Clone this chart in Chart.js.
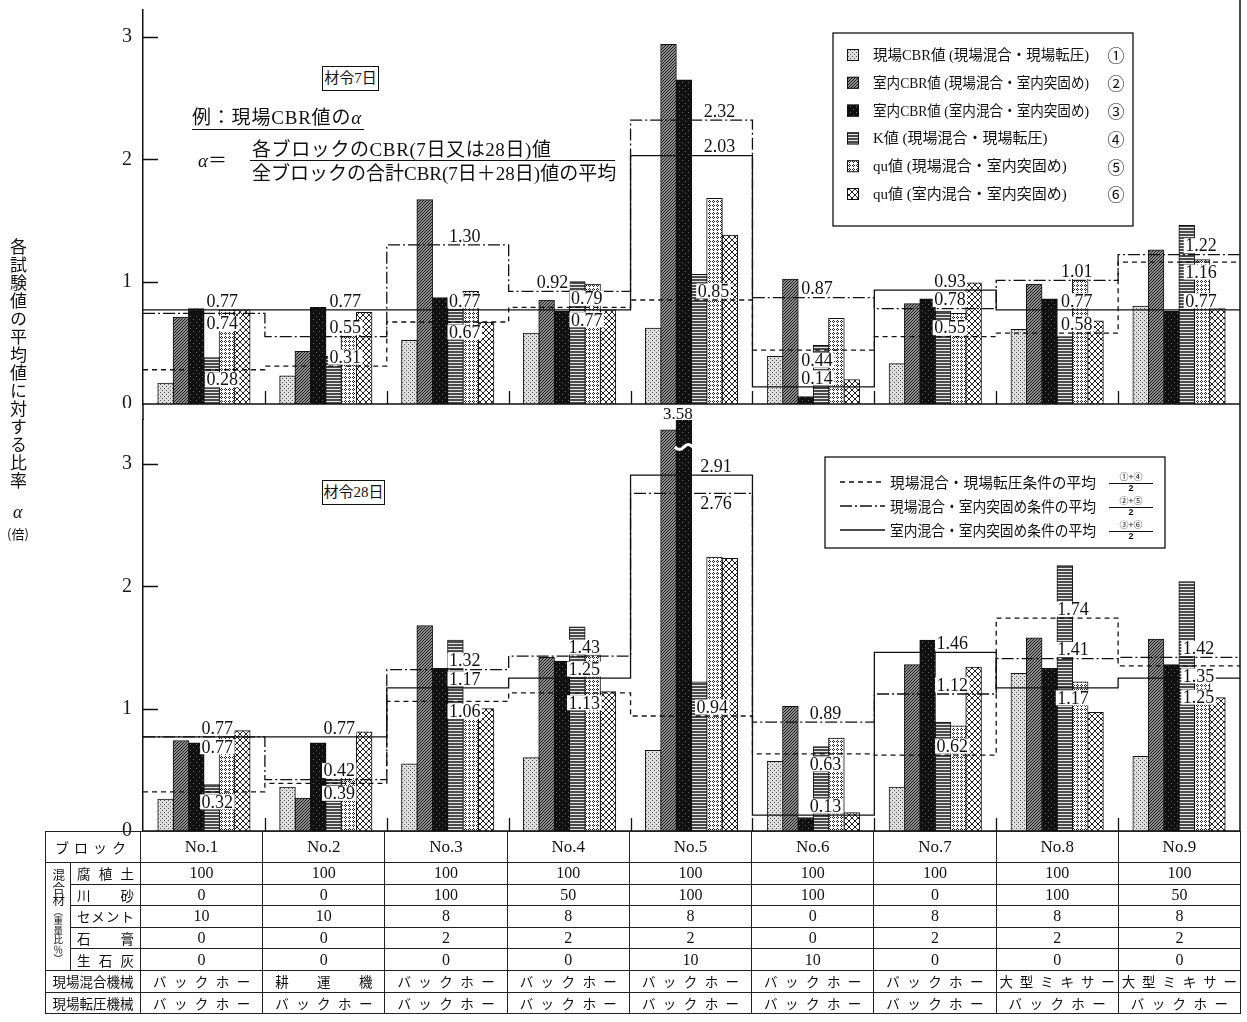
<!DOCTYPE html>
<html lang="ja">
<head>
<meta charset="utf-8">
<title>材令7日・28日 各試験値の平均値に対する比率</title>
<script src="https://cdn.jsdelivr.net/npm/chart.js@4.4.1/dist/chart.umd.min.js"></script>
<style>
  html, body { margin: 0; padding: 0; background: #fff; }
  #page { position: relative; width: 1247px; height: 1022px; overflow: hidden; background: #fff; color: #111;
          font-family: "Liberation Serif", "Noto Sans CJK JP", serif; }
  #page canvas { position: absolute; left: 0; }
  #c7 { top: 0; }
  #c28 { top: 404px; }
  .note { position: absolute; white-space: nowrap; line-height: 1; font-size: 19px; }
  .age { position: absolute; box-sizing: border-box; border: 1.3px solid #111; font-size: 15px;
         line-height: 22px; text-align: center; background: #fff; white-space: nowrap; }
  #ytitle { position: absolute; left: 10px; top: 238px; writing-mode: vertical-rl; text-orientation: upright;
            font-family: "Noto Sans CJK JP"; font-size: 17px; letter-spacing: 1px; line-height: 1; }
  #tbl { position: absolute; left: 45px; top: 831px; width: 1196px; border-collapse: collapse; table-layout: fixed; }
  #tbl td { border: 1px solid #222; padding: 0; text-align: center; white-space: nowrap; overflow: hidden;
            height: 20.6px; font-size: 16px; line-height: 18px; }
  #tbl tr.hd td { height: 30px; }
  #tbl td.no { font-size: 17px; }
  #tbl td.jp { font-family: "Noto Sans CJK JP"; font-size: 13.5px; }
  #tbl td.just { text-align: justify; text-align-last: justify; }
  #tbl td.lab { letter-spacing: 5px; font-size: 14px; }
  #tbl td.vcell div { writing-mode: vertical-rl; text-orientation: upright; font-family: "Noto Sans CJK JP";
                      font-size: 12.5px; line-height: 1; margin: 0 auto; }
  #tbl td.vcell small { font-size: 9.5px; }
</style>
</head>
<body>
<div id="page">
  <canvas id="c7" width="1247" height="408"></canvas>
  <canvas id="c28" width="1247" height="432"></canvas>

  <div id="ytitle">各試験値の平均値に対する比率</div>
  <div class="note" style="left:13px;top:503px;font-size:18px;"><i>α</i></div>
  <div class="note" style="left:7px;top:527px;font-size:13px;font-family:'Noto Sans CJK JP';">(倍)</div>

  <div class="age" style="left:322px;top:66px;width:57px;height:25px;">材令7日</div>
  <div class="note" style="left:192px;top:108px;border-bottom:1px solid #111;padding:0 2px 2px 0;letter-spacing:0.8px;">例：現場CBR値の<i>α</i></div>
  <div class="note" style="left:198px;top:151px;"><i>α</i>＝</div>
  <div class="note" style="left:250px;top:140px;width:365px;">
    <div style="border-bottom:1px solid #111;padding:0 0 1px 2px;letter-spacing:0.6px;">各ブロックのCBR(7日又は28日)値</div>
    <div style="padding:3px 0 0 2px;">全ブロックの合計CBR(7日＋28日)値の平均</div>
  </div>
  <div class="age" style="left:322px;top:480px;width:63px;height:25px;">材令28日</div>

  <table id="tbl"></table>
</div>

<script>
// Blocks and the mix / machine table underneath the panels
const blocks = ['No.1', 'No.2', 'No.3', 'No.4', 'No.5', 'No.6', 'No.7', 'No.8', 'No.9'];
const humusSoil = [100, 100, 100, 100, 100, 100, 100, 100, 100];
const riverSand = [0, 0, 100, 50, 100, 100, 0, 100, 50];
const cement = [10, 10, 8, 8, 8, 0, 8, 8, 8];
const gypsum = [0, 0, 2, 2, 2, 0, 2, 2, 2];
const quicklime = [0, 0, 0, 0, 10, 10, 0, 0, 0];
const mixMachine = ['バックホー', '耕運機', 'バックホー', 'バックホー', 'バックホー', 'バックホー', 'バックホー', '大型ミキサー', '大型ミキサー'];
const rollMachine = ['バックホー', 'バックホー', 'バックホー', 'バックホー', 'バックホー', 'バックホー', 'バックホー', 'バックホー', 'バックホー'];

// Test series (bars) and condition averages (step lines)
const barNames = [
  '現場CBR値 (現場混合・現場転圧)',
  '室内CBR値 (現場混合・室内突固め)',
  '室内CBR値 (室内混合・室内突固め)',
  'K値 (現場混合・現場転圧)',
  'qu値 (現場混合・室内突固め)',
  'qu値 (室内混合・室内突固め)'
];
const marks = ['①', '②', '③', '④', '⑤', '⑥'];
const lineNames = ['現場混合・現場転圧条件の平均', '現場混合・室内突固め条件の平均', '室内混合・室内突固め条件の平均'];
const linePairs = [[0, 3], [1, 4], [2, 5]];
const yTicks = [0, 1, 2, 3];

// 材令7日 : α per block
const fieldCbr7 = [0.17, 0.23, 0.52, 0.58, 0.62, 0.39, 0.33, 0.61, 0.80];
const labCbrFieldMix7 = [0.71, 0.43, 1.67, 0.85, 2.94, 1.02, 0.82, 0.98, 1.26];
const labCbrLabMix7 = [0.78, 0.79, 0.87, 0.76, 2.65, 0.06, 0.86, 0.86, 0.76];
const kValue7 = [0.38, 0.39, 0.82, 1.00, 1.06, 0.48, 0.76, 0.55, 1.46];
const quFieldMix7 = [0.77, 0.67, 0.92, 0.98, 1.68, 0.70, 0.74, 1.04, 1.18];
const quLabMix7 = [0.77, 0.75, 0.67, 0.77, 1.38, 0.20, 0.99, 0.68, 0.78];
const avgFieldRoll7 = [0.28, 0.31, 0.67, 0.79, 0.85, 0.44, 0.55, 0.58, 1.16];
const avgFieldTamp7 = [0.74, 0.55, 1.30, 0.92, 2.32, 0.87, 0.78, 1.01, 1.22];
const avgLabTamp7 = [0.77, 0.77, 0.77, 0.77, 2.03, 0.14, 0.93, 0.77, 0.77];

// 材令28日 : α per block
const fieldCbr28 = [0.26, 0.36, 0.55, 0.60, 0.66, 0.57, 0.36, 1.29, 0.61];
const labCbrFieldMix28 = [0.74, 0.27, 1.68, 1.42, 3.28, 1.02, 1.36, 1.58, 1.57];
const labCbrLabMix28 = [0.72, 0.72, 1.33, 1.39, 3.58, 0.11, 1.56, 1.33, 1.36];
const kValue28 = [0.38, 0.42, 1.56, 1.67, 1.22, 0.69, 0.89, 2.17, 2.04];
const quFieldMix28 = [0.79, 0.55, 0.96, 1.44, 2.24, 0.76, 0.86, 1.22, 1.27];
const quLabMix28 = [0.82, 0.81, 1.00, 1.14, 2.23, 0.15, 1.34, 0.97, 1.09];
const avgFieldRoll28 = [0.32, 0.39, 1.06, 1.13, 0.94, 0.63, 0.62, 1.74, 1.35];
const avgFieldTamp28 = [0.77, 0.42, 1.32, 1.43, 2.76, 0.89, 1.12, 1.41, 1.42];
const avgLabTamp28 = [0.77, 0.77, 1.17, 1.25, 2.91, 0.13, 1.46, 1.17, 1.25];

// Where each average's value label sits: [shift from block centre (blocks), shift from the line (px)]
// per block, in the order dashed, dash-dot, solid
const A = -9, B = 10;
const spots7 = [
  [[0.15, B], [0.15, B], [0.15, A]],
  [[0.16, A], [0.16, A], [0.16, A]],
  [[0.14, B], [0.14, A], [0.14, A]],
  [[0.14, A], [-0.14, A], [0.14, B]],
  [[0.18, A], [0.23, A], [0.23, A]],
  [[0.03, B], [0.03, A], [0.03, A]],
  [[0.12, A], [0.12, A], [0.12, A]],
  [[0.16, A], [0.16, A], [0.16, A]],
  [[0.18, B], [0.18, A], [0.18, A]]
];
const spots28 = [
  [[0.11, B], [0.11, A], [0.11, B]],
  [[0.11, B], [0.11, A], [0.11, A]],
  [[0.14, B], [0.14, A], [0.14, A]],
  [[0.12, B], [0.12, A], [0.12, A]],
  [[0.17, A], [0.2, B], [0.2, A]],
  [[0.1, B], [0.1, A], [0.1, A]],
  [[0.14, A], [0.14, A], [0.14, A]],
  [[0.13, A], [0.13, A], [0.13, B]],
  [[0.16, B], [0.16, A], [0.16, 19]]
];

// bar slot width inside a block (in block widths) and bar thickness (px)
const SLOT = 0.1258;
const BAR_PX = 15.8;

// ---------- fill patterns for the six test series ----------
function makePattern(w, h, draw) {
  const c = document.createElement('canvas');
  c.width = w; c.height = h;
  const g = c.getContext('2d');
  draw(g);
  return g.createPattern(c, 'repeat');
}
const px = (g, color, pts) => { g.fillStyle = color; pts.forEach(([x, y]) => g.fillRect(x, y, 1, 1)); };
const fills = [
  makePattern(4, 4, g => { g.fillStyle = '#dedede'; g.fillRect(0, 0, 4, 4); px(g, '#555', [[0, 0], [2, 2]]); }),
  makePattern(3, 3, g => { g.fillStyle = '#8e8e8e'; g.fillRect(0, 0, 3, 3); px(g, '#1a1a1a', [[0, 2], [1, 1], [2, 0]]); }),
  makePattern(6, 6, g => { g.fillStyle = '#101010'; g.fillRect(0, 0, 6, 6); px(g, '#6a6a6a', [[1, 1], [4, 4]]); }),
  makePattern(3, 3, g => { g.fillStyle = '#e6e6e6'; g.fillRect(0, 0, 3, 3); g.fillStyle = '#4c4c4c'; g.fillRect(0, 0, 3, 2); }),
  makePattern(4, 4, g => { g.fillStyle = '#fff'; g.fillRect(0, 0, 4, 4); px(g, '#222', [[1, 0], [0, 1], [2, 1], [1, 2]]); }),
  makePattern(6, 6, g => {
    g.fillStyle = '#fff'; g.fillRect(0, 0, 6, 6);
    const p = []; for (let i = 0; i < 6; i++) { p.push([i, i], [5 - i, i]); }
    px(g, '#222', p);
  })
];
const dashes = [[5, 4], [12, 3, 2, 3], []];

const steps = vals => vals.map((v, i) => ({ x: i - 0.5, y: v })).concat([{ x: vals.length - 0.5, y: vals[vals.length - 1] }]);

function datasets(bars, avgs) {
  const ds = bars.map((vals, k) => ({
    type: 'bar', label: barNames[k],
    data: vals.map((v, i) => ({ x: i + (k - (bars.length - 1) / 2) * SLOT, y: v })),
    backgroundColor: fills[k], borderColor: '#111', borderWidth: 1, borderSkipped: 'start', clip: 0,
    grouped: false, barThickness: BAR_PX, xAxisID: 'x', yAxisID: 'y'
  }));
  avgs.forEach((vals, k) => ds.push({
    type: 'line', label: lineNames[k], data: steps(vals), xAxisID: 'x', yAxisID: 'y',
    borderColor: '#111', borderWidth: 1.3, borderDash: dashes[k], stepped: true,
    pointRadius: 0, fill: false, order: -1
  }));
  return ds;
}

// ---------- plugins ----------
const framePlugin = {
  id: 'frame',
  afterDatasetsDraw(chart, args, o) {
    const { ctx, chartArea: a } = chart;
    const y = chart.scales.y, x = chart.scales.x;
    const y0 = y.getPixelForValue(0);
    ctx.save();
    ctx.strokeStyle = '#111';
    ctx.lineWidth = 1.5;
    ctx.beginPath();
    ctx.moveTo(a.left, y0); ctx.lineTo(a.right, y0);
    ctx.moveTo(a.right, 0); ctx.lineTo(a.right, y0);
    if (o.axisToTop) { ctx.moveTo(a.left, 0); ctx.lineTo(a.left, a.top); }
    ctx.stroke();
    ctx.lineWidth = 1.3;
    ctx.beginPath();
    y.ticks.forEach(t => {
      if (t.value > 0) { const p = Math.round(y.getPixelForValue(t.value)) + 0.5; ctx.moveTo(a.left, p); ctx.lineTo(a.left + 15, p); }
    });
    for (let i = 0; i < blocks.length - 1; i++) {
      const xb = Math.round(x.getPixelForValue(i + 0.5)) + 0.5;
      ctx.moveTo(xb, y0); ctx.lineTo(xb, y0 - 13);
    }
    ctx.stroke();
    ctx.restore();
  }
};

function valueLabels(avgs, spots) {
  return {
    id: 'valueLabels',
    afterDatasetsDraw(chart) {
      const { ctx } = chart;
      const y = chart.scales.y, x = chart.scales.x;
      ctx.save();
      ctx.font = '18px "Liberation Serif"';
      ctx.textAlign = 'center';
      ctx.textBaseline = 'middle';
      avgs.forEach((vals, s) => vals.forEach((v, i) => {
        const [dx, dy] = spots[i][s];
        const txt = v.toFixed(2);
        const cx = x.getPixelForValue(i + dx);
        const cy = y.getPixelForValue(v) + dy;
        const w = ctx.measureText(txt).width + 3;
        ctx.fillStyle = '#fff';
        ctx.fillRect(cx - w / 2, cy - 7.5, w, 15);
        ctx.fillStyle = '#111';
        ctx.fillText(txt, cx, cy + 1);
      }));
      ctx.restore();
    }
  };
}

// bars running past the top of the scale: break mark and the stated value
const overflowPlugin = {
  id: 'overflow',
  afterDatasetsDraw(chart) {
    const { ctx, chartArea: a } = chart;
    const y = chart.scales.y;
    chart.data.datasets.forEach((d, k) => {
      if (d.type !== 'bar') return;
      d.data.forEach((pt, i) => {
        if (pt.y <= y.max) return;
        const bar = chart.getDatasetMeta(k).data[i];
        const half = bar.width / 2;
        const yb = a.top + 27;
        ctx.save();
        ctx.strokeStyle = '#fff';
        ctx.lineWidth = 3;
        ctx.beginPath();
        for (let n = 0; n <= 12; n++) {
          const t = n / 12;
          const xx = bar.x - half - 1 + t * (2 * half + 2);
          const yy = yb + 2.5 * Math.sin(t * 2 * Math.PI);
          if (n === 0) ctx.moveTo(xx, yy); else ctx.lineTo(xx, yy);
        }
        ctx.stroke();
        ctx.fillStyle = '#111';
        ctx.font = '17px "Liberation Serif"';
        ctx.textAlign = 'center';
        ctx.textBaseline = 'alphabetic';
        ctx.fillText(pt.y.toFixed(2), bar.x - 6, a.top - 1);
        ctx.restore();
      });
    });
  }
};

const barLegend = {
  id: 'barLegend',
  afterDraw(chart) {
    const ctx = chart.ctx;
    const L = 833, T = 33, W = 300, H = 193;
    ctx.save();
    ctx.fillStyle = '#fff'; ctx.fillRect(L, T, W, H);
    ctx.strokeStyle = '#111'; ctx.lineWidth = 1.3; ctx.strokeRect(L, T, W, H);
    ctx.textBaseline = 'middle';
    chart.data.datasets.filter(d => d.type === 'bar').forEach((d, k) => {
      const y = T + 22 + k * 27.8;
      ctx.fillStyle = d.backgroundColor; ctx.fillRect(L + 14, y - 6, 12, 12);
      ctx.lineWidth = 1; ctx.strokeRect(L + 14.5, y - 5.5, 11, 11);
      ctx.fillStyle = '#111';
      ctx.font = '15px "Liberation Serif", "Noto Sans CJK JP"';
      ctx.textAlign = 'left';
      ctx.fillText(d.label, L + 40, y + 1, 216);
      ctx.font = '17px "Noto Sans CJK JP"';
      ctx.textAlign = 'center';
      ctx.fillText(marks[k], L + 283, y + 1);
    });
    ctx.restore();
  }
};

const lineLegend = {
  id: 'lineLegend',
  afterDraw(chart) {
    const ctx = chart.ctx;
    const L = 825, T = 53, W = 340, H = 91;
    ctx.save();
    ctx.fillStyle = '#fff'; ctx.fillRect(L, T, W, H);
    ctx.strokeStyle = '#111'; ctx.lineWidth = 1.3; ctx.strokeRect(L, T, W, H);
    chart.data.datasets.filter(d => d.type === 'line').forEach((d, k) => {
      const y = T + 25 + k * 24;
      ctx.lineWidth = 1.3;
      ctx.setLineDash(d.borderDash);
      ctx.beginPath(); ctx.moveTo(L + 15, y); ctx.lineTo(L + 60, y); ctx.stroke();
      ctx.setLineDash([]);
      ctx.fillStyle = '#111';
      ctx.textBaseline = 'middle';
      ctx.textAlign = 'left';
      ctx.font = '15px "Noto Sans CJK JP"';
      ctx.fillText(d.label, L + 65, y, 206);
      const cx = L + 306;
      ctx.textAlign = 'center';
      ctx.font = '9px "Noto Sans CJK JP"';
      ctx.fillText(marks[linePairs[k][0]] + '+' + marks[linePairs[k][1]], cx, y - 5);
      ctx.lineWidth = 1;
      ctx.beginPath(); ctx.moveTo(cx - 22, y + 1.5); ctx.lineTo(cx + 22, y + 1.5); ctx.stroke();
      ctx.font = 'bold 9px "Liberation Sans"';
      ctx.fillText('2', cx, y + 7);
    });
    ctx.restore();
  }
};

function panelOptions(yMax, padTop, padBottom, axisToTop) {
  return {
    responsive: false,
    animation: false,
    events: [],
    layout: { padding: { top: padTop, bottom: padBottom, left: 0, right: 7 } },
    plugins: { legend: { display: false }, tooltip: { enabled: false }, frame: { axisToTop } },
    scales: {
      x: { type: 'linear', min: -0.5, max: blocks.length - 0.5, offset: false, display: false,
           grid: { display: false, offset: false } },
      y: {
        position: 'left', min: 0, max: yMax,
        afterBuildTicks: s => { s.ticks = yTicks.map(v => ({ value: v })); },
        ticks: { color: '#1a1a1a', padding: 11, font: { family: 'Liberation Serif', size: 20 } },
        grid: { display: false, drawTicks: false },
        border: { display: true, color: '#111', width: 1.5 },
        afterFit: s => { s.width = 143; s.paddingTop = 0; s.paddingBottom = 0; }
      }
    }
  };
}

Chart.defaults.font.family = '"Liberation Serif", "Noto Sans CJK JP"';

new Chart(document.getElementById('c7'), {
  type: 'bar',
  data: {
    datasets: datasets(
      [fieldCbr7, labCbrFieldMix7, labCbrLabMix7, kValue7, quFieldMix7, quLabMix7],
      [avgFieldRoll7, avgFieldTamp7, avgLabTamp7])
  },
  options: panelOptions(3.22, 10, 4, false),
  plugins: [framePlugin, valueLabels([avgFieldRoll7, avgFieldTamp7, avgLabTamp7], spots7), barLegend]
});

new Chart(document.getElementById('c28'), {
  type: 'bar',
  data: {
    datasets: datasets(
      [fieldCbr28, labCbrFieldMix28, labCbrLabMix28, kValue28, quFieldMix28, quLabMix28],
      [avgFieldRoll28, avgFieldTamp28, avgLabTamp28])
  },
  options: panelOptions(3.36, 16, 5, true),
  plugins: [framePlugin, valueLabels([avgFieldRoll28, avgFieldTamp28, avgLabTamp28], spots28), overflowPlugin, lineLegend]
});

// ---------- mix / machine table ----------
const machineCell = m => `<td class="jp just" style="padding:0 ${m.length >= 6 ? 3 : 12}px;">${m}</td>`;
const numCells = arr => arr.map(v => `<td>${v}</td>`).join('');
let html = '<colgroup><col style="width:25px"><col style="width:70px">' +
  blocks.map(() => '<col style="width:122.22px">').join('') + '</colgroup>';
html += `<tr class="hd"><td colspan="2" class="jp lab">ブロック</td>${blocks.map(b => `<td class="no">${b}</td>`).join('')}</tr>`;
html += `<tr><td rowspan="5" class="vcell"><div>混合材<small>（重量比％）</small></div></td>` +
        `<td class="jp just" style="padding:0 6px;">腐植土</td>${numCells(humusSoil)}</tr>`;
html += `<tr><td class="jp just" style="padding:0 6px;">川砂</td>${numCells(riverSand)}</tr>`;
html += `<tr><td class="jp just" style="padding:0 6px;">セメント</td>${numCells(cement)}</tr>`;
html += `<tr><td class="jp just" style="padding:0 6px;">石膏</td>${numCells(gypsum)}</tr>`;
html += `<tr><td class="jp just" style="padding:0 6px;">生石灰</td>${numCells(quicklime)}</tr>`;
html += `<tr><td colspan="2" class="jp">現場混合機械</td>${mixMachine.map(machineCell).join('')}</tr>`;
html += `<tr><td colspan="2" class="jp">現場転圧機械</td>${rollMachine.map(machineCell).join('')}</tr>`;
document.getElementById('tbl').innerHTML = html;
</script>
</body>
</html>
